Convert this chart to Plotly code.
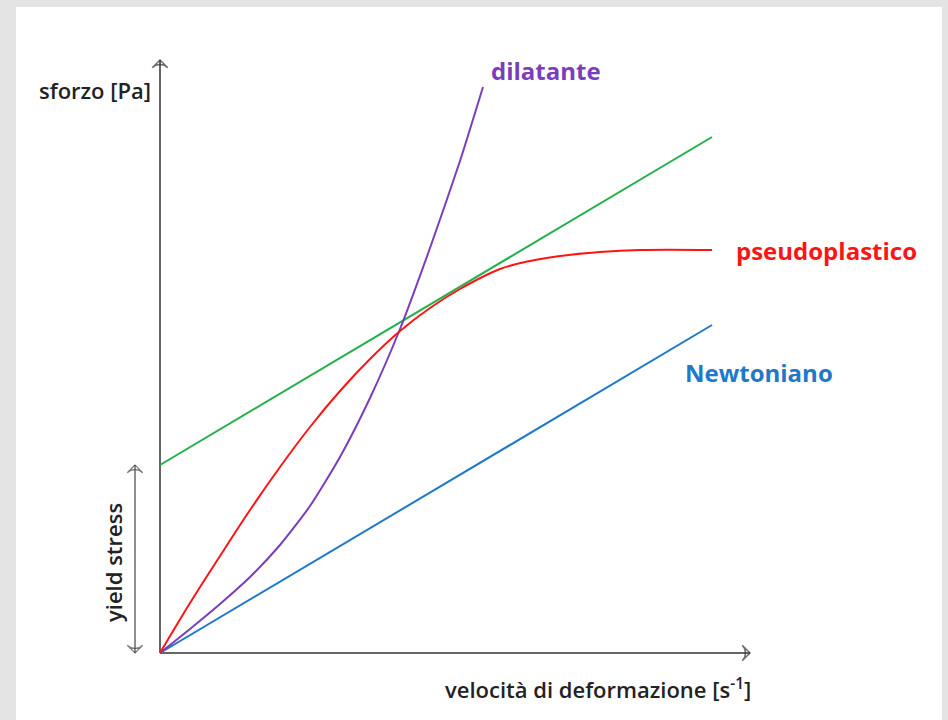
import plotly.graph_objects as go

# ---- data (arbitrary units: shear rate vs stress) ----
shear_lin = [0, 552]
newtonian = [0, 328]
yield_stress = 188
bingham = [188, 516]

pseudo_x = [0, 30, 60, 90, 120, 150, 180, 210, 240, 270, 300, 340, 370, 400, 440, 480, 552]
pseudo_y = [0, 50, 97, 143, 186, 226, 262, 294, 322, 345, 364, 384, 392, 397, 401, 403, 403]

dil_x = [0, 30, 60, 90, 120, 150, 180, 210, 240, 270, 300, 323]
dil_y = [0, 24, 49, 76, 108, 147, 196, 255, 324, 405, 492, 566]

x_axis_end = 590
y_axis_end = 593

labels = {
    "dil": "dilatante",
    "pseudo": "pseudoplastico",
    "newt": "Newtoniano",
    "ylab": "sforzo [Pa]",
    "xlab": "velocità di deformazione [s<sup>-1</sup>]",
    "yield": "yield stress",
}

GREEN = "#22b04a"
RED = "#ff1414"
PURPLE = "#7a3dbb"
BLUE = "#1f78c8"
DARK = "#222222"
AXIS = "#333333"
FONT = "Open Sans"

W, H = 948, 720
ox, oy = 160, 653  # origin position in the picture

fig = go.Figure()


def arrow_trace(xs, ys, color, width, size):
    return go.Scatter(
        x=xs, y=ys, mode="lines+markers", hoverinfo="skip",
        line=dict(color=color, width=width),
        marker=dict(symbol="arrow-wide-open", size=[0, size], angleref="previous",
                    color=color, line=dict(color=color, width=width)),
    )


# axes with arrows
fig.add_trace(arrow_trace([0, x_axis_end], [0, 0], AXIS, 1.5, 11))
fig.add_trace(arrow_trace([0, 0], [0, y_axis_end], AXIS, 1.5, 11))
# yield stress double arrow (two halves from the middle)
yx = -25
fig.add_trace(arrow_trace([yx, yx], [yield_stress / 2, yield_stress], "#444444", 1.2, 11))
fig.add_trace(arrow_trace([yx, yx], [yield_stress / 2, 0], "#444444", 1.2, 11))

fig.add_trace(go.Scatter(x=shear_lin, y=bingham, mode="lines",
                         line=dict(color=GREEN, width=2), hoverinfo="skip"))
fig.add_trace(go.Scatter(x=shear_lin, y=newtonian, mode="lines",
                         line=dict(color=BLUE, width=2), hoverinfo="skip"))
fig.add_trace(go.Scatter(x=dil_x, y=dil_y, mode="lines",
                         line=dict(color=PURPLE, width=2, shape="spline", smoothing=0.6),
                         hoverinfo="skip"))
fig.add_trace(go.Scatter(x=pseudo_x, y=pseudo_y, mode="lines",
                         line=dict(color=RED, width=2, shape="spline", smoothing=1.0),
                         hoverinfo="skip"))

ann = []
ann.append(dict(x=-47, y=90, xref="x", yref="y", text=labels["yield"],
                textangle=-90, showarrow=False,
                font=dict(family=FONT, size=22, weight=600, color=DARK)))
ann.append(dict(x=-7, y=563, xref="x", yref="y", text=labels["ylab"], xanchor="right",
                showarrow=False, font=dict(family=FONT, size=22, weight=600, color=DARK)))
ann.append(dict(x=438, y=-35, xref="x", yref="y", text=labels["xlab"],
                showarrow=False, font=dict(family=FONT, size=22, weight=600, color=DARK)))
ann.append(dict(x=329, y=583, xref="x", yref="y", text="<b>" + labels["dil"] + "</b>",
                xanchor="left", showarrow=False, font=dict(family=FONT, size=24, color=PURPLE)))
ann.append(dict(x=574, y=403, xref="x", yref="y", text="<b>" + labels["pseudo"] + "</b>",
                xanchor="left", showarrow=False, font=dict(family=FONT, size=24, color=RED)))
ann.append(dict(x=523, y=281, xref="x", yref="y", text="<b>" + labels["newt"] + "</b>",
                xanchor="left", showarrow=False, font=dict(family=FONT, size=24, color=BLUE)))

fig.update_layout(
    width=W, height=H,
    margin=dict(l=0, r=0, t=0, b=0, pad=0),
    paper_bgcolor="#e4e4e4",
    plot_bgcolor="rgba(0,0,0,0)",
    showlegend=False,
    xaxis=dict(range=[-ox, W - ox], visible=False, fixedrange=True),
    yaxis=dict(range=[oy - H, oy], visible=False, fixedrange=True),
    annotations=ann,
    shapes=[dict(type="rect", xref="paper", yref="paper", layer="below",
                 x0=16 / W, x1=942 / W, y0=-0.01, y1=(H - 7) / H,
                 fillcolor="white", line=dict(width=0))],
)

fig.write_html("out.html", config={"displayModeBar": False},
               post_script="document.body.style.margin='0px';")
